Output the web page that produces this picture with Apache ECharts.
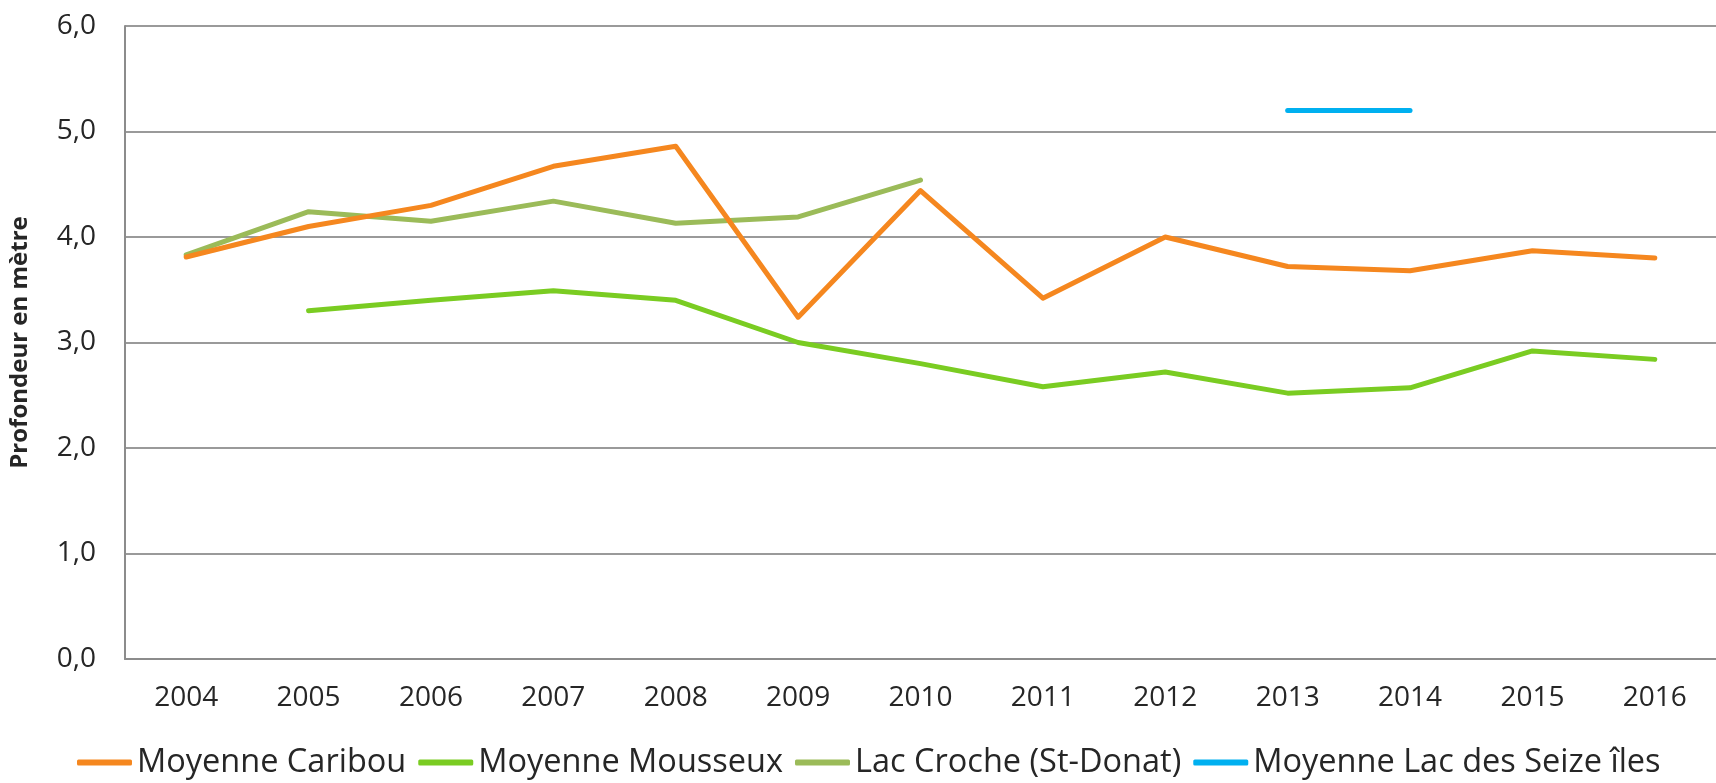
<!DOCTYPE html>
<html>
<head>
<meta charset="utf-8">
<script src="https://cdn.jsdelivr.net/npm/echarts@6/dist/echarts.min.js"></script>
<style>
    html, body { margin: 0; padding: 0; background: #fff; }
    #chart { width: 1716px; height: 783px; }
</style>
</head>
<body>
<div id="chart"></div>
<script>
var years = ['2004','2005','2006','2007','2008','2009','2010','2011','2012','2013','2014','2015','2016'];
var seriesNames = ['Moyenne Caribou','Moyenne Mousseux','Lac Croche (St-Donat)','Moyenne Lac des Seize îles'];
var caribou  = [3.81, 4.10, 4.30, 4.67, 4.86, 3.24, 4.44, 3.42, 4.00, 3.72, 3.68, 3.87, 3.80];
var mousseux = [null, 3.30, 3.40, 3.49, 3.40, 3.00, 2.80, 2.58, 2.72, 2.52, 2.57, 2.92, 2.84];
var croche   = [3.83, 4.24, 4.15, 4.34, 4.13, 4.19, 4.54, null, null, null, null, null, null];
var seizeIles = [null, null, null, null, null, null, null, null, null, 5.20, 5.20, null, null];
var colors = ['#F5871F','#7ACC22','#9BBB59','#00B0F0'];

function lineSerie(name, data, color, z) {
    return {
        name: name,
        type: 'line',
        data: data,
        symbol: 'none',
        z: z,
        lineStyle: { width: 5, color: color, cap: 'round', join: 'round' },
        itemStyle: { color: color }
    };
}

var chart = echarts.init(document.getElementById('chart'));
chart.setOption({
    animation: false,
    textStyle: { fontFamily: 'Open Sans' },
    grid: { left: 121, right: -7, top: 26, bottom: 124 },
    legend: {
        left: 77,
        top: 746,
        padding: 0,
        icon: 'roundRect',
        itemWidth: 55,
        itemHeight: 6,
        itemGap: 12,
        textStyle: { fontSize: 32.5, color: '#262626', fontFamily: 'Open Sans' },
        data: seriesNames
    },
    xAxis: {
        type: 'category',
        data: years,
        boundaryGap: true,
        axisLine: { lineStyle: { color: '#8C8C8C', width: 2 } },
        axisTick: { show: false },
        axisLabel: { fontSize: 28, color: '#262626', margin: 25 }
    },
    yAxis: {
        type: 'value',
        min: 0,
        max: 6,
        interval: 1,
        name: 'Profondeur en mètre',
        nameLocation: 'middle',
        nameGap: 93,
        nameTextStyle: { fontSize: 24, fontWeight: 'bold', color: '#262626' },
        axisLine: { show: true, lineStyle: { color: '#8C8C8C', width: 2 } },
        axisTick: { show: false },
        axisLabel: {
            fontSize: 28, color: '#262626', margin: 29,
            formatter: function (v) { return v.toFixed(1).replace('.', ','); }
        },
        splitLine: { lineStyle: { color: '#9A9A9A', width: 2 } }
    },
    series: [
        lineSerie(seriesNames[0], caribou, colors[0], 4),
        lineSerie(seriesNames[1], mousseux, colors[1], 2),
        lineSerie(seriesNames[2], croche, colors[2], 3),
        lineSerie(seriesNames[3], seizeIles, colors[3], 2)
    ]
});
</script>
</body>
</html>
